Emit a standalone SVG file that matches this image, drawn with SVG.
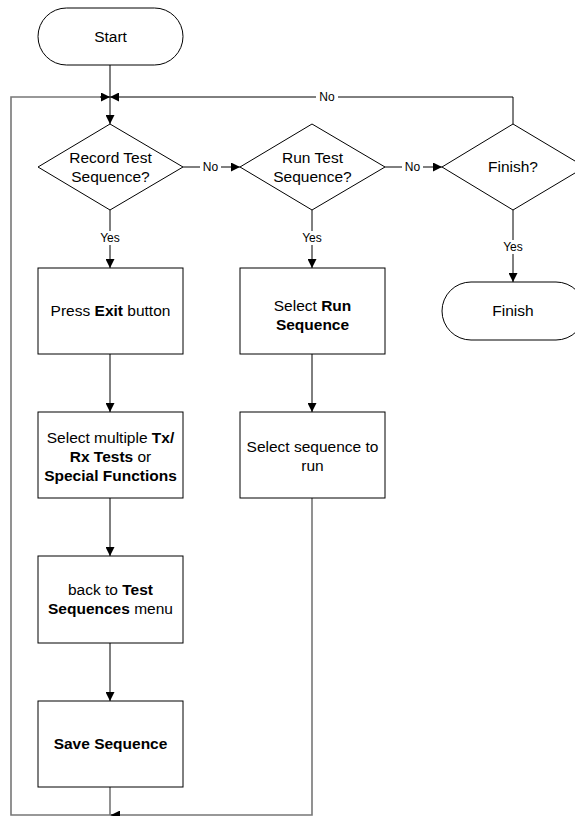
<svg xmlns="http://www.w3.org/2000/svg" width="575" height="816" viewBox="0 0 575 816">
<style>
.shape{fill:#fff;stroke:#000;stroke-width:1}
.t{font-family:"Liberation Sans",Arial,sans-serif;font-size:15.5px;fill:#000;text-anchor:middle}
.b{font-weight:bold}
.lbl{font-family:"Liberation Sans",Arial,sans-serif;font-size:12px;fill:#000;text-anchor:middle}
.c{fill:none;stroke:#000;stroke-width:1}
.g{fill:none;stroke:#777;stroke-width:1.6}
.bg{fill:#fff;stroke:none}
</style>
<defs>
<marker id="ah" viewBox="0 0 10 10" refX="10" refY="5" markerWidth="9" markerHeight="9" markerUnits="userSpaceOnUse" orient="auto">
<path d="M0,0 L10,5 L0,10 z" fill="#000"/>
</marker>
</defs>
<rect width="575" height="816" fill="#fff"/>
<g id="connectors">
<line class="c" x1="110" y1="65" x2="110" y2="124" marker-end="url(#ah)"/>
<path class="g" d="M110,787 V815 H11 V97 H110" />
<path class="c" d="M100,97 H110" marker-end="url(#ah)"/>
<path class="g" d="M312,498 V815 H110"/>
<path class="c" d="M120,815 H111" marker-end="url(#ah)"/>
<path class="c" d="M513,124 V97 H110" marker-end="url(#ah)"/>
<rect class="bg" x="316" y="90" width="22" height="14"/>
<text class="lbl" x="327" y="101">No</text>
<line class="c" x1="183" y1="167" x2="240" y2="167" marker-end="url(#ah)"/>
<rect class="bg" x="200" y="160" width="21" height="14"/>
<text class="lbl" x="210.5" y="171">No</text>
<line class="c" x1="385" y1="167" x2="442" y2="167" marker-end="url(#ah)"/>
<rect class="bg" x="402" y="160" width="21" height="14"/>
<text class="lbl" x="412.5" y="171">No</text>
<line class="c" x1="110" y1="210" x2="110" y2="268" marker-end="url(#ah)"/>
<rect class="bg" x="98" y="231" width="24" height="14"/>
<text class="lbl" x="110" y="242">Yes</text>
<line class="c" x1="312" y1="210" x2="312" y2="268" marker-end="url(#ah)"/>
<rect class="bg" x="300" y="231" width="24" height="14"/>
<text class="lbl" x="312" y="242">Yes</text>
<line class="c" x1="513" y1="210" x2="513" y2="282" marker-end="url(#ah)"/>
<rect class="bg" x="501" y="240" width="24" height="14"/>
<text class="lbl" x="513" y="251">Yes</text>
<line class="c" x1="110" y1="354" x2="110" y2="412" marker-end="url(#ah)"/>
<line class="c" x1="110" y1="498" x2="110" y2="556" marker-end="url(#ah)"/>
<line class="c" x1="110" y1="643" x2="110" y2="701" marker-end="url(#ah)"/>
<line class="c" x1="312" y1="354" x2="312" y2="412" marker-end="url(#ah)"/>
</g>
<g id="start">
<rect class="shape" x="38" y="8" width="145" height="57" rx="28.5" ry="28.5"/>
<text class="t" x="110.5" y="42">Start</text>
</g>
<g id="record-test">
<polygon class="shape" points="110,124 183,167 110,210 38,167"/>
<text class="t" x="110.5" y="163">Record Test</text>
<text class="t" x="110.5" y="182">Sequence?</text>
</g>
<g id="run-test">
<polygon class="shape" points="312,124 385,167 312,210 240,167"/>
<text class="t" x="312.5" y="163">Run Test</text>
<text class="t" x="312.5" y="182">Sequence?</text>
</g>
<g id="finish-q">
<polygon class="shape" points="513,124 585,167 513,210 442,167"/>
<text class="t" x="513" y="172">Finish?</text>
</g>
<g id="finish">
<rect class="shape" x="442" y="282" width="143" height="58" rx="29" ry="29"/>
<text class="t" x="513" y="316">Finish</text>
</g>
<g id="press-exit">
<rect class="shape" x="38" y="268" width="145" height="86"/>
<text class="t" x="110.5" y="316">Press <tspan class="b">Exit</tspan> button</text>
</g>
<g id="select-multiple">
<rect class="shape" x="38" y="412" width="145" height="86"/>
<text class="t" x="110.5" y="443">Select multiple <tspan class="b">Tx/</tspan></text>
<text class="t" x="110.5" y="462"><tspan class="b">Rx Tests</tspan> or</text>
<text class="t b" x="110.5" y="481">Special Functions</text>
</g>
<g id="back-to">
<rect class="shape" x="38" y="556" width="145" height="87"/>
<text class="t" x="110.5" y="595">back to <tspan class="b">Test</tspan></text>
<text class="t" x="110.5" y="614"><tspan class="b">Sequences</tspan> menu</text>
</g>
<g id="save-seq">
<rect class="shape" x="38" y="701" width="145" height="86"/>
<text class="t b" x="110.5" y="749">Save Sequence</text>
</g>
<g id="select-run">
<rect class="shape" x="240" y="268" width="145" height="86"/>
<text class="t" x="312.5" y="311">Select <tspan class="b">Run</tspan></text>
<text class="t b" x="312.5" y="330">Sequence</text>
</g>
<g id="select-seq">
<rect class="shape" x="240" y="412" width="145" height="86"/>
<text class="t" x="312.5" y="452">Select sequence to</text>
<text class="t" x="312.5" y="471">run</text>
</g>
</svg>
